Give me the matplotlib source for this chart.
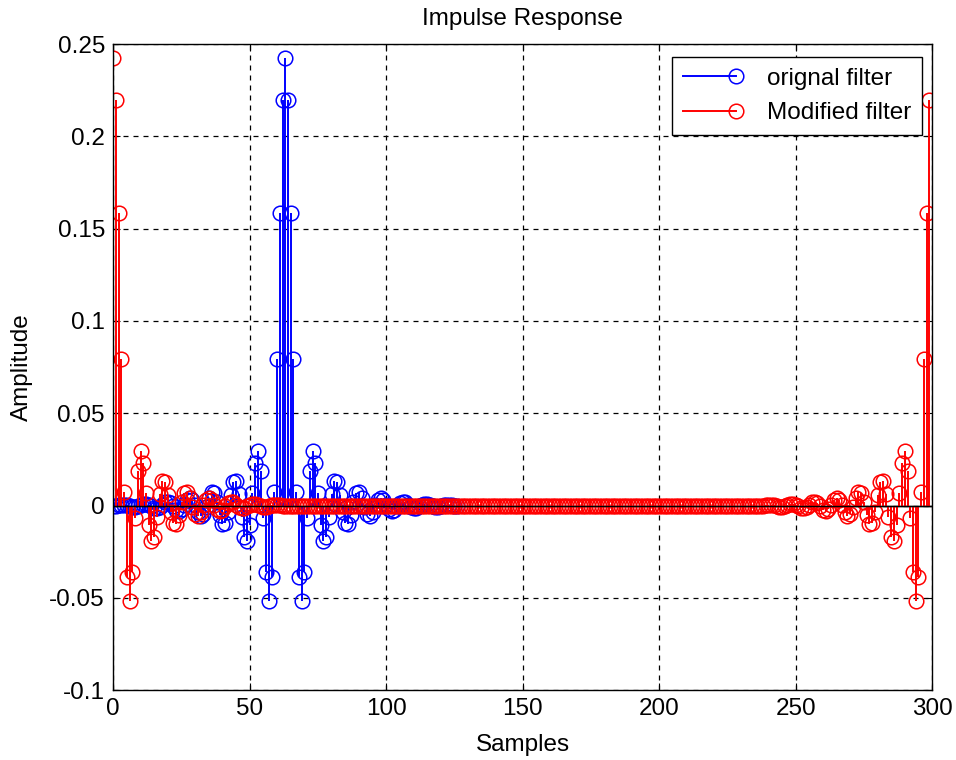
import numpy as np
import matplotlib.pyplot as plt
from matplotlib.lines import Line2D
from matplotlib.legend_handler import HandlerBase

plt.rcParams['font.family'] = ['Liberation Sans', 'DejaVu Sans']

# one side of the symmetric original filter, offsets 0..63 from the centre tap
half = [0.2427, 0.2197, 0.1586, 0.0796, 0.0072, -0.0390, -0.0515, -0.0359,
        -0.0070, 0.0185, 0.0293, 0.0233, 0.0066, -0.0104, -0.0193, -0.0168,
        -0.0061, 0.0061, 0.0134, 0.0127, 0.0056, -0.0035, -0.0095, -0.0098,
        -0.0049, 0.0018, 0.0067, 0.0075, 0.0042, -0.0008, -0.0047, -0.0056,
        -0.0035, 0.0001, 0.0032, 0.0042, 0.0028, 0.0002, -0.0021, -0.0030,
        -0.0022, -0.0004, 0.0013, 0.0021, 0.0017, 0.0004, -0.0008, -0.0014,
        -0.0012, -0.0004, 0.0005, 0.0009, 0.0008, 0.0003, -0.0002, -0.0006,
        -0.0006, -0.0003, 0.0001, 0.0004, 0.0004, 0.0002, -0.0001, -0.0003]
half = np.array(half)
original = np.concatenate([half[::-1], half[1:]])   # samples 0..126, centre at 63
n_total = 300
centre = 63

# modified filter: zero padded to 300 and rotated so the centre tap sits at 0
padded = np.zeros(n_total)
padded[:len(original)] = original
modified = np.roll(padded, -centre)

x_orig = np.arange(len(original))
x_mod = np.arange(n_total)

xticks = [0, 50, 100, 150, 200, 250, 300]
yticks = [-0.1, -0.05, 0, 0.05, 0.1, 0.15, 0.2, 0.25]
ytick_labels = ['-0.1', '-0.05', '0', '0.05', '0.1', '0.15', '0.2', '0.25']

fs = 17.5
fig = plt.figure(figsize=(9.56, 7.6), dpi=100)
ax = fig.add_axes([0.1185, 0.092, 0.8565, 0.850])

ms = 10.5
mew = 1.1
for x, y, c in [(x_orig, original, 'b'), (x_mod, modified, 'r')]:
    mk, st, bl = ax.stem(x, y, linefmt=c + '-', markerfmt=c + 'o', basefmt='k-')
    mk.set_markerfacecolor('none')
    mk.set_markeredgecolor(c)
    mk.set_markersize(ms)
    mk.set_markeredgewidth(mew)
    st.set_linewidth(1.4)
    bl.set_linewidth(1.0)
    bl.set_xdata([0, n_total])

ax.set_xlim(0, 300)
ax.set_ylim(-0.1, 0.25)
ax.set_xticks(xticks)
ax.set_xticklabels([str(t) for t in xticks])
ax.set_yticks(yticks)
ax.set_yticklabels(ytick_labels)
ax.tick_params(direction='in', top=True, right=True, length=5, labelsize=fs, pad=6)
ax.grid(True, color='black', linestyle=(0, (4, 4)), linewidth=0.9)
for s in ax.spines.values():
    s.set_linewidth(1.0)

ax.set_title('Impulse Response', fontsize=fs, pad=14)
ax.set_xlabel('Samples', fontsize=fs, labelpad=10)
ax.set_ylabel('Amplitude', fontsize=fs, labelpad=12)


class StemHandler(HandlerBase):
    def create_artists(self, legend, orig_handle, xdescent, ydescent,
                       width, height, fontsize, trans):
        c = orig_handle.get_color()
        y = (height - ydescent) / 2
        line = Line2D([-xdescent, width - xdescent], [y, y], color=c, lw=1.4)
        mark = Line2D([width - xdescent], [y], marker='o', ms=ms, mfc='none',
                      mec=c, mew=mew, ls='none')
        line.set_transform(trans)
        mark.set_transform(trans)
        return [line, mark]


h1 = Line2D([], [], color='b')
h2 = Line2D([], [], color='r')
leg = ax.legend([h1, h2], ['orignal filter', 'Modified filter'],
                loc='upper right', bbox_to_anchor=(0.9875, 0.98),
                handler_map={Line2D: StemHandler()}, fontsize=fs,
                fancybox=False, framealpha=1, edgecolor='black',
                handlelength=2.2, handletextpad=1.25, borderpad=0.45,
                labelspacing=0.5, borderaxespad=0)
leg.get_frame().set_linewidth(1.0)

fig.savefig('out.png', dpi=100)
